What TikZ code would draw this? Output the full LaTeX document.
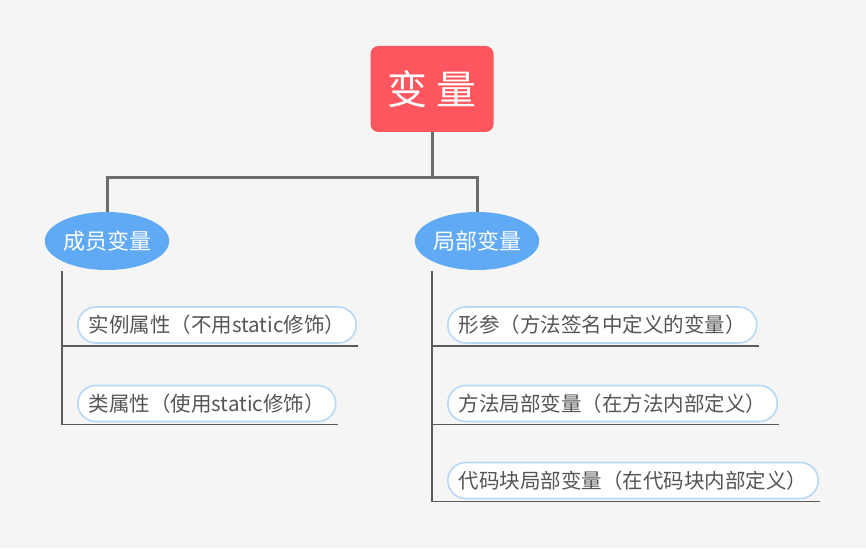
\documentclass[tikz,border=0pt]{standalone}
\usepackage{fontspec}
\setmainfont{Noto Sans CJK SC}
\usetikzlibrary{shapes.geometric,calc}
\definecolor{bgcol}{RGB}{245,245,245}
\definecolor{rootred}{RGB}{253,86,94}
\definecolor{branchblue}{RGB}{96,170,245}
\definecolor{pillblue}{RGB}{184,216,248}
\definecolor{linkgray}{RGB}{108,108,108}
\definecolor{leafgray}{RGB}{90,90,90}
\definecolor{textgray}{RGB}{85,85,85}
\tikzset{
  rootbox/.style={fill=rootred, rounded corners=8pt, minimum width=123pt, minimum height=86pt, text=white, font=\fontsize{40}{44}\selectfont},
  branchnode/.style={ellipse, fill=branchblue, minimum width=122pt, minimum height=58pt, inner sep=0pt, text=white, font=\fontsize{22}{26}\selectfont},
  leafnode/.style={draw=pillblue, line width=1.6pt, fill=white, rounded corners=18pt, minimum height=36pt, inner xsep=11pt, inner ysep=0pt, anchor=west, text=textgray, font=\fontsize{20.5}{24}\selectfont},
  linkline/.style={draw=linkgray, line width=3pt},
  leafline/.style={draw=leafgray, line width=1.5pt}
}

\begin{document}
\begin{tikzpicture}[x=1pt, y=-1pt]
  \fill[bgcol] (0,0) rectangle (866,548);
  \useasboundingbox (0,0) rectangle (866,548);
  \node[rootbox] (root) at (432,89) {变 量};
  \node[branchnode] (member) at (107,241) {成员变量};
  \node[branchnode] (local) at (477,241) {局部变量};
  \coordinate (fork) at (432,177);
  \draw[linkline] (root.south) -- (fork) -| (member.north);
  \draw[linkline] (fork) -| (local.north);
  % member variables
  \node[leafnode] (m1) at (77,325) {实例属性（不用static修饰）};
  \node[leafnode] (m2) at (77,403.5) {类属性（使用static修饰）};
  \coordinate (mtop) at (62,271);
  \coordinate (m1b) at ([xshift=1pt,yshift=-2pt]m1.south east);
  \coordinate (m2b) at ([xshift=1pt,yshift=-2pt]m2.south east);
  \draw[leafline] (mtop) |- (m2b);
  \draw[leafline] (mtop |- m1b) -- (m1b);
  % local variables
  \node[leafnode] (l1) at (447,325) {形参（方法签名中定义的变量）};
  \node[leafnode] (l2) at (447,403.5) {方法局部变量（在方法内部定义）};
  \node[leafnode] (l3) at (447,480.5) {代码块局部变量（在代码块内部定义）};
  \coordinate (ltop) at (432,271);
  \coordinate (l1b) at ([xshift=1pt,yshift=-2pt]l1.south east);
  \coordinate (l2b) at ([xshift=1pt,yshift=-2pt]l2.south east);
  \coordinate (l3b) at ([xshift=1pt,yshift=-2pt]l3.south east);
  \draw[leafline] (ltop) |- (l3b);
  \draw[leafline] (ltop |- l1b) -- (l1b);
  \draw[leafline] (ltop |- l2b) -- (l2b);
\end{tikzpicture}
\end{document}
